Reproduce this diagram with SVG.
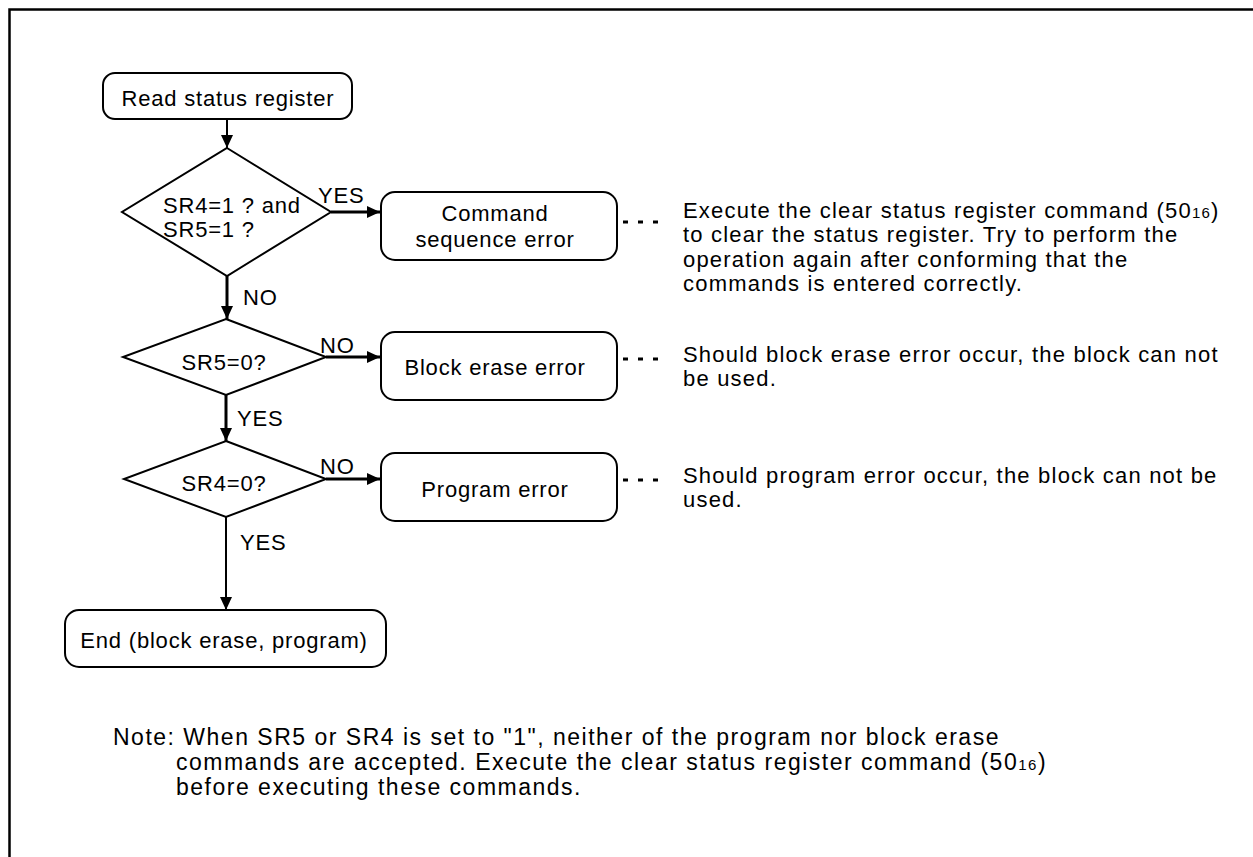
<svg xmlns="http://www.w3.org/2000/svg" width="1253" height="857" viewBox="0 0 1253 857">
<style>
text{font-family:"Liberation Sans",Arial,sans-serif;font-size:22px;letter-spacing:0.8px;fill:#000}
.c{text-anchor:middle}
.d{letter-spacing:1.2px}
.n{font-size:23px;letter-spacing:1.5px}
.box{fill:#fff;stroke:#000;stroke-width:2}
.dia{fill:#fff;stroke:#000;stroke-width:2}
.ln{fill:none;stroke:#000;stroke-width:3}
.ln2{fill:none;stroke:#000;stroke-width:2}
.dots{fill:none;stroke:#000;stroke-width:3;stroke-dasharray:5 10}
.sub{font-size:15px}
</style>
<defs>
<marker id="ah" markerUnits="userSpaceOnUse" markerWidth="14" markerHeight="12" refX="13" refY="6" orient="auto">
<path d="M0,0 L13,6 L0,12 Z" fill="#000"/>
</marker>
</defs>
<path d="M9.5,857 V9.5 H1253" fill="none" stroke="#000" stroke-width="2.5"/>
<g id="connectors">
<path class="ln2" d="M227,119 V148" marker-end="url(#ah)"/>
<path class="ln" d="M227,276 V319" marker-end="url(#ah)"/>
<path class="ln" d="M226,395 V441" marker-end="url(#ah)"/>
<path class="ln2" d="M226,517 V610" marker-end="url(#ah)"/>
<path class="ln" d="M331,212 H380" marker-end="url(#ah)"/>
<path class="ln" d="M326,357 H380" marker-end="url(#ah)"/>
<path class="ln" d="M326,479 H380" marker-end="url(#ah)"/>
<path class="dots" d="M623,222 H660"/>
<path class="dots" d="M623,359 H660"/>
<path class="dots" d="M623,480 H660"/>
<text x="318" y="203">YES</text>
<text x="243" y="305">NO</text>
<text x="320" y="353">NO</text>
<text x="237" y="426">YES</text>
<text x="320" y="474">NO</text>
<text x="240" y="550">YES</text>
</g>
<g id="n-read">
<rect class="box" x="103" y="73" width="249" height="46" rx="12"/>
<text class="c" x="228" y="106">Read status register</text>
</g>
<g id="n-d1">
<polygon class="dia" points="227,148 331,212 227,276 122,212"/>
<text x="163" y="213">SR4=1 ? and</text>
<text x="163" y="237">SR5=1 ?</text>
</g>
<g id="n-cmd">
<rect class="box" x="381" y="192" width="236" height="68" rx="14"/>
<text class="c" x="495" y="221">Command</text>
<text class="c" x="495" y="247">sequence error</text>
</g>
<g id="n-d2">
<polygon class="dia" points="226,319 326,357 226,395 123,357"/>
<text class="c" x="224" y="370">SR5=0?</text>
</g>
<g id="n-blk">
<rect class="box" x="381" y="332" width="236" height="68" rx="14"/>
<text class="c" x="495" y="375">Block erase error</text>
</g>
<g id="n-d3">
<polygon class="dia" points="226,441 326,479 226,517 124,479"/>
<text class="c" x="224" y="491">SR4=0?</text>
</g>
<g id="n-prg">
<rect class="box" x="381" y="453" width="236" height="68" rx="14"/>
<text class="c" x="495" y="497">Program error</text>
</g>
<g id="n-end">
<rect class="box" x="65" y="610" width="321" height="57" rx="14"/>
<text class="c" x="224" y="648">End (block erase, program)</text>
</g>
<g id="desc1">
<text class="d" x="683" y="218">Execute the clear status register command (50<tspan class="sub">16</tspan>)</text>
<text class="d" x="683" y="242">to clear the status register. Try to perform the</text>
<text class="d" x="683" y="267">operation again after conforming that the</text>
<text class="d" x="683" y="291">commands is entered correctly.</text>
</g>
<g id="desc2">
<text class="d" x="683" y="362">Should block erase error occur, the block can not</text>
<text class="d" x="683" y="386">be used.</text>
</g>
<g id="desc3">
<text class="d" x="683" y="483">Should program error occur, the block can not be</text>
<text class="d" x="683" y="507">used.</text>
</g>
<g id="note">
<text class="n" x="113" y="745">Note: When SR5 or SR4 is set to "1", neither of the program nor block erase</text>
<text class="n" x="176" y="770">commands are accepted. Execute the clear status register command (50<tspan class="sub">16</tspan>)</text>
<text class="n" x="176" y="795">before executing these commands.</text>
</g>
</svg>
